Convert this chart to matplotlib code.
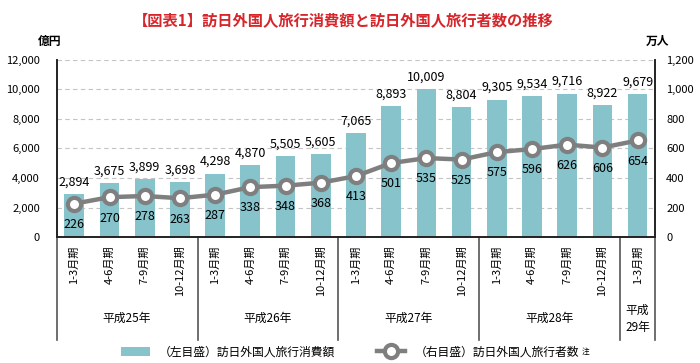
import matplotlib
matplotlib.use("Agg")
import matplotlib.pyplot as plt
import matplotlib.transforms as mtransforms
import numpy as np

plt.rcParams['font.family'] = ['Noto Sans CJK JP', 'DejaVu Sans']

quarters = ['1-3月期', '4-6月期', '7-9月期', '10-12月期'] * 4 + ['1-3月期']
years = ['平成25年', '平成26年', '平成27年', '平成28年', '平成\n29年']
spending = [2894, 3675, 3899, 3698, 4298, 4870, 5505, 5605, 7065, 8893,
            10009, 8804, 9305, 9534, 9716, 8922, 9679]
visitors = [226, 270, 278, 263, 287, 338, 348, 368, 413, 501, 535, 525,
            575, 596, 626, 606, 654]

bar_color = '#86c3cb'
line_color = '#7f7f7f'

fig = plt.figure(figsize=(7, 3.63), dpi=100)
ax = fig.add_axes([0.081, 0.347, 0.855, 0.488])
ax2 = ax.twinx()

x = np.arange(len(spending))
bars = ax.bar(x, spending, width=0.56, color=bar_color, zorder=2,
              label='（左目盛）訪日外国人旅行消費額')
for xi, v in zip(x, spending):
    ax.annotate(f'{v:,}', (xi, v), xytext=(0, 4), textcoords='offset points',
                ha='center', va='bottom', fontsize=9)

ln, = ax2.plot(x, visitors, color=line_color, lw=3.2, marker='o', ms=9.5,
               mfc='white', mec=line_color, mew=3, zorder=3,
               label='（右目盛）訪日外国人旅行者数')
for xi, v in zip(x, visitors):
    ax2.annotate(str(v), (xi, v), xytext=(0, -15), textcoords='offset points',
                 ha='center', va='center', fontsize=9)

ax.set_xlim(-0.5, len(x) - 0.5)
ax.set_ylim(0, 12000)
ax2.set_ylim(0, 1200)
ax.set_yticks(np.arange(0, 12001, 2000))
ax2.set_yticks(np.arange(0, 1201, 200))
ax.yaxis.set_major_formatter(matplotlib.ticker.FuncFormatter(lambda v, p: f'{int(v):,}'))
ax2.yaxis.set_major_formatter(matplotlib.ticker.FuncFormatter(lambda v, p: f'{int(v):,}'))
ax.tick_params(axis='y', length=0, labelsize=8, pad=12)
ax2.tick_params(axis='y', length=0, labelsize=8, pad=8)
ax.grid(axis='y', ls=(0, (4, 3)), color='#c4c4c4', lw=0.8, zorder=0)
ax.set_axisbelow(True)

for a in (ax, ax2):
    a.spines['top'].set_visible(False)
    for s in ('left', 'right', 'bottom'):
        a.spines[s].set_color('#222222')
        a.spines[s].set_linewidth(1.2)

ax.set_xticks(x)
ax.set_xticklabels(quarters, rotation=90, fontsize=8, va='top')
ax.tick_params(axis='x', length=0, pad=6)

# group separators and year labels under the axis
trans = mtransforms.blended_transform_factory(ax.transData, ax.transAxes)
for b in [-0.5, 3.5, 7.5, 11.5, 15.5, 16.5]:
    ax.plot([b, b], [0, -0.58], transform=trans, color='#555555', lw=1.2,
            clip_on=False)
for i, yl in enumerate(years):
    cx = 1.5 + 4 * i if i < 4 else 16
    ax.text(cx, -0.46, yl, transform=trans, ha='center', va='center',
            fontsize=8.5, linespacing=1.4)

fig.text(0.49, 0.945, '【図表1】訪日外国人旅行消費額と訪日外国人旅行者数の推移',
         ha='center', va='center', fontsize=11, fontweight='bold',
         color='#d7262b')
fig.text(0.071, 0.885, '億円', ha='center', va='center', fontsize=8.5,
         fontweight='bold')
fig.text(0.94, 0.885, '万人', ha='center', va='center', fontsize=8.5,
         fontweight='bold')

leg = fig.legend([bars, ln], [bars.get_label(), ln.get_label()], loc='center',
                 bbox_to_anchor=(0.5, 0.03), ncol=2, frameon=False,
                 fontsize=8.5, handlelength=2.4, columnspacing=3.5,
                 handletextpad=0.8)

# superscript note after the second legend entry
fig.canvas.draw()
bb = leg.get_texts()[1].get_window_extent()
fx, fy = fig.transFigure.inverted().transform((bb.x1 + 3, bb.y1 - 2))
fig.text(fx, fy, '注', fontsize=5.5, ha='left', va='top')

fig.savefig('out.png', dpi=100)
